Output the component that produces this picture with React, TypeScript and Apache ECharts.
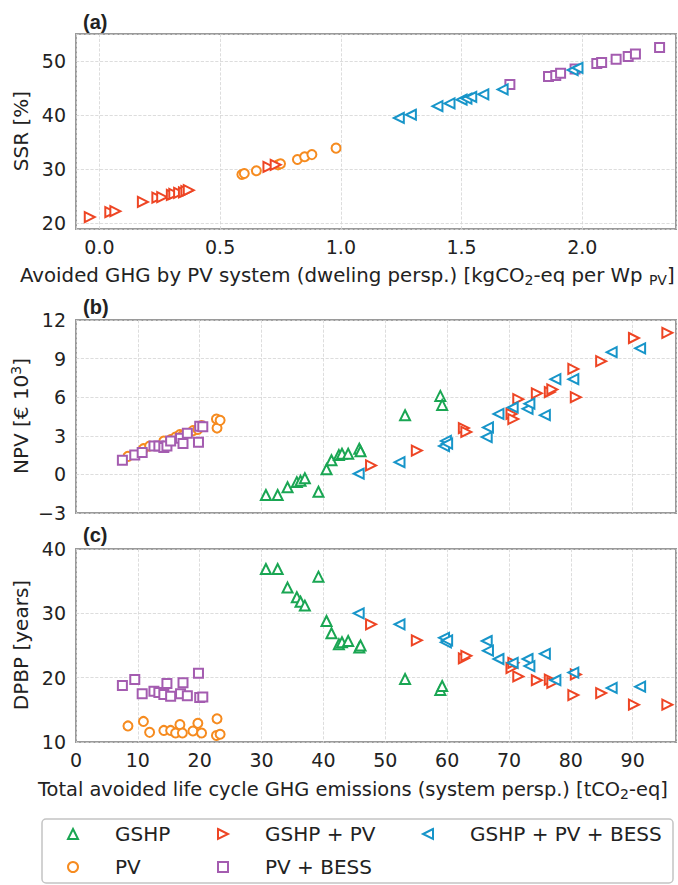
import React, { useEffect, useRef } from "react";
import * as echarts from "echarts";

const FONT = '"DejaVu Sans", "Liberation Sans", Arial, sans-serif';
const TEXT = "#222222";

// ---- (a) avoided GHG by PV system vs. SSR ----
const gshpPvAvoided = [-0.04, 0.045, 0.066, 0.18, 0.24, 0.26, 0.3, 0.31, 0.33, 0.35, 0.36, 0.37, 0.7, 0.73];
const gshpPvSsr = [21.1, 22.0, 22.2, 23.9, 24.7, 24.8, 25.2, 25.4, 25.6, 25.7, 25.9, 26.1, 30.4, 30.8];

const pvAvoided = [0.59, 0.6, 0.65, 0.74, 0.75, 0.82, 0.85, 0.88, 0.98];
const pvSsr = [29.0, 29.2, 29.7, 30.8, 31.0, 31.8, 32.3, 32.7, 33.9];

const gshpPvBessAvoided = [1.24, 1.29, 1.4, 1.45, 1.5, 1.52, 1.54, 1.59, 1.67, 1.96, 1.98];
const gshpPvBessSsr = [39.5, 40.1, 41.7, 42.2, 42.9, 43.1, 43.4, 43.9, 44.8, 48.4, 48.8];

const pvBessAvoided = [1.7, 1.86, 1.89, 1.91, 1.97, 2.06, 2.08, 2.14, 2.19, 2.22, 2.32];
const pvBessSsr = [45.7, 47.2, 47.4, 47.8, 48.6, 49.6, 49.8, 50.4, 50.9, 51.4, 52.6];

// ---- (b) NPV and (c) DPBP vs. total avoided life cycle GHG ----
const gshpTotal = [30.7, 32.6, 34.2, 35.7, 36.3, 37.0, 39.2, 40.5, 41.3, 42.5, 43.0, 44.0, 45.8, 46.0, 53.2, 58.9, 59.2];
const gshpNpv = [-1.6, -1.6, -1.0, -0.6, -0.5, -0.3, -1.35, 0.4, 1.1, 1.5, 1.6, 1.6, 2.0, 1.8, 4.6, 6.1, 5.4];
const gshpDpbp = [36.9, 36.9, 34.0, 32.5, 31.8, 31.2, 35.7, 28.8, 26.9, 25.2, 25.5, 25.7, 24.7, 25.0, 19.8, 18.1, 18.7];

const gshpPvTotal = [47.7, 55.1, 62.7, 63.1, 70.4, 70.7, 71.5, 74.5, 76.6, 77.0, 80.4, 80.8, 84.9, 90.2, 95.6];
const gshpPvNpv = [0.7, 1.85, 3.6, 3.3, 4.7, 4.3, 5.85, 6.3, 6.4, 6.6, 8.2, 6.0, 8.8, 10.6, 11.0];
const gshpPvDpbp = [28.3, 25.8, 23.0, 23.4, 21.5, 22.3, 20.2, 19.6, 19.7, 19.2, 17.3, 20.5, 17.6, 15.8, 15.8];

const gshpPvBessTotal = [45.7, 52.3, 59.5, 59.8, 60.0, 66.4, 66.6, 68.3, 70.6, 73.0, 73.3, 75.8, 77.5, 80.4, 86.6, 91.2];
const gshpPvBessNpv = [0.05, 0.95, 2.2, 2.6, 2.4, 2.9, 3.65, 4.7, 5.2, 5.1, 5.5, 4.6, 7.4, 7.4, 9.5, 9.8];
const gshpPvBessDpbp = [30.0, 28.3, 26.2, 25.5, 25.8, 25.7, 24.2, 22.9, 22.3, 22.9, 21.8, 23.7, 19.6, 20.8, 18.4, 18.6];

const pvTotal = [8.4, 10.9, 11.9, 14.2, 15.3, 16.1, 16.8, 17.2, 18.9, 19.7, 20.3, 22.8, 22.7, 23.3];
const pvNpv = [1.4, 2.0, 2.2, 2.6, 2.7, 2.9, 3.1, 3.0, 3.4, 3.5, 3.8, 3.6, 4.3, 4.2];
const pvDpbp = [12.5, 13.2, 11.5, 11.8, 11.8, 11.4, 12.7, 11.4, 11.7, 12.9, 11.4, 13.6, 11.0, 11.2];

const pvBessTotal = [7.5, 9.5, 10.7, 12.6, 13.4, 14.2, 14.7, 15.3, 16.9, 17.3, 18.0, 19.8, 20.0, 20.5];
const pvBessNpv = [1.1, 1.5, 1.7, 2.2, 2.2, 2.1, 2.2, 2.6, 2.8, 2.4, 3.2, 2.5, 3.75, 3.7];
const pvBessDpbp = [18.8, 19.7, 17.5, 17.9, 17.7, 17.4, 19.1, 17.1, 17.5, 19.2, 17.2, 20.7, 16.9, 17.0];

const GSHP = "GSHP";
const GSHP_PV = "GSHP + PV";
const GSHP_PV_BESS = "GSHP + PV + BESS";
const PV = "PV";
const PV_BESS = "PV + BESS";

// marker shapes: up, right- and left-pointing triangles, circle, square
const TRI_UP = "path://M5,0L10,10L0,10Z";
const TRI_RIGHT = "path://M0,0L10,5L0,10Z";
const TRI_LEFT = "path://M10,0L0,5L10,10Z";

const markerStyle: Record<string, { color: string; symbol: string; size: number }> = {
  [GSHP]: { color: "#1aa653", symbol: TRI_UP, size: 10 },
  [PV]: { color: "#f68b1f", symbol: "circle", size: 9 },
  [GSHP_PV]: { color: "#ee4524", symbol: TRI_RIGHT, size: 10 },
  [PV_BESS]: { color: "#a45cb0", symbol: "rect", size: 9 },
  [GSHP_PV_BESS]: { color: "#1795c9", symbol: TRI_LEFT, size: 10 },
};

const zip = (xs: number[], ys: number[]) => xs.map((x, i) => [x, ys[i]]);

function scatter(name: string, idx: number, xs: number[], ys: number[]) {
  const m = markerStyle[name];
  return {
    type: "scatter",
    name,
    xAxisIndex: idx,
    yAxisIndex: idx,
    data: zip(xs, ys),
    symbol: m.symbol,
    symbolSize: m.size,
    itemStyle: { color: "#ffffff", borderColor: m.color, borderWidth: 2, opacity: 1 },
    emphasis: { disabled: true },
  };
}

const gridLine = { show: true, lineStyle: { color: "#d4d4d4", type: "dashed", width: 0.8 } };
const tickFont = { fontSize: 19, color: TEXT, fontFamily: FONT };
const minus = (v: number) => String(v).replace("-", "\u2212");

// one legend column: small marker, then a fixed gap before the label
function legendCol(names: string[], iconCenter: number) {
  return {
    data: names.map((name) => ({
      name,
      icon: markerStyle[name].symbol,
      itemStyle: { color: "#ffffff", borderColor: markerStyle[name].color, borderWidth: 2 },
    })),
    orient: "vertical",
    left: iconCenter - 5,
    top: 824,
    height: 70,
    padding: 0,
    itemWidth: 10,
    itemHeight: 10,
    itemGap: 13,
    selectedMode: false,
    formatter: (name: string) => `{gap| }${name}`,
    textStyle: {
      fontSize: 20,
      color: TEXT,
      fontFamily: FONT,
      rich: { gap: { width: 32, fontSize: 20 } },
    },
  };
}

const subRich = {
  sub: { fontSize: 14, lineHeight: 14, verticalAlign: "bottom", fontFamily: FONT, fill: TEXT },
  sup: { fontSize: 14, lineHeight: 14, verticalAlign: "top", fontFamily: FONT, fill: TEXT },
};

function label(text: string, x: number, y: number, opts: any = {}) {
  return {
    type: "text",
    x,
    y,
    rotation: opts.rotation || 0,
    style: {
      text,
      fill: TEXT,
      fontSize: opts.fontSize || 20,
      fontWeight: opts.bold ? "bold" : "normal",
      fontFamily: opts.family || FONT,
      lineHeight: 24,
      align: opts.align || "left",
      verticalAlign: "middle",
      rich: subRich,
    },
  };
}

export default function App() {
  const ref = useRef<HTMLDivElement>(null);

  useEffect(() => {
    if (!ref.current) return;
    const chart = echarts.init(ref.current, undefined, { renderer: "svg" });

    const grids = [
      { left: 76, top: 34, width: 600, height: 195 },
      { left: 76, top: 320, width: 600, height: 193 },
      { left: 76, top: 549, width: 600, height: 193 },
    ].map((g) => ({ ...g, show: true, borderColor: "#9a9a9a", borderWidth: 2, backgroundColor: "transparent" }));

    const baseAxis = {
      type: "value",
      axisLine: { show: false },
      axisTick: { show: false },
      splitLine: gridLine,
    };

    const panelFont = '"Liberation Sans", Arial, sans-serif';

    chart.setOption({
      animation: false,
      backgroundColor: "#ffffff",
      grid: grids,
      xAxis: [
        {
          ...baseAxis,
          gridIndex: 0,
          min: -0.097,
          max: 2.388,
          splitNumber: 5,
          axisLabel: {
            ...tickFont,
            margin: 8,
            showMinLabel: false,
            showMaxLabel: false,
            formatter: (v: number) => v.toFixed(1),
          },
        },
        { ...baseAxis, gridIndex: 1, min: 0, max: 97, interval: 10, axisLabel: { show: false } },
        {
          ...baseAxis,
          gridIndex: 2,
          min: 0,
          max: 97,
          interval: 10,
          axisLabel: { ...tickFont, margin: 8, showMaxLabel: false },
        },
      ],
      yAxis: [
        {
          ...baseAxis,
          gridIndex: 0,
          min: 18.88,
          max: 55.1,
          splitNumber: 4,
          axisLabel: { ...tickFont, margin: 10, showMinLabel: false, showMaxLabel: false },
        },
        {
          ...baseAxis,
          gridIndex: 1,
          min: -3,
          max: 12,
          interval: 3,
          axisLabel: { ...tickFont, margin: 10, formatter: minus },
        },
        {
          ...baseAxis,
          gridIndex: 2,
          min: 10,
          max: 40,
          interval: 10,
          axisLabel: { ...tickFont, margin: 10 },
        },
      ],
      legend: [
        legendCol([GSHP, PV], 72),
        legendCol([GSHP_PV, PV_BESS], 222),
        legendCol([GSHP_PV_BESS], 427),
      ],
      graphic: [
        {
          type: "rect",
          shape: { x: 42, y: 819, width: 631, height: 64, r: 4 },
          style: { fill: "none", stroke: "#c4c4c4", lineWidth: 1.5 },
          silent: true,
        },
        label("(a)", 83, 22, { bold: true, family: panelFont }),
        label("(b)", 83, 307, { bold: true, family: panelFont }),
        label("(c)", 83, 535, { bold: true, family: panelFont }),
        label("Avoided GHG by PV system (dweling persp.) [kgCO{sub|2}-eq per Wp {sub|PV}]", 20, 275, { fontSize: 19.75 }),
        label("Total avoided life cycle GHG emissions (system persp.) [tCO{sub|2}-eq]", 38, 789, { fontSize: 19.4 }),
        label("SSR [%]", 21, 131, { rotation: Math.PI / 2, align: "center" }),
        label("NPV [\u20ac 10{sup|3}]", 21, 416, { rotation: Math.PI / 2, align: "center" }),
        label("DPBP [years]", 21, 645, { rotation: Math.PI / 2, align: "center" }),
      ],
      series: [
        scatter(PV, 0, pvAvoided, pvSsr),
        scatter(GSHP_PV, 0, gshpPvAvoided, gshpPvSsr),
        scatter(PV_BESS, 0, pvBessAvoided, pvBessSsr),
        scatter(GSHP_PV_BESS, 0, gshpPvBessAvoided, gshpPvBessSsr),

        scatter(GSHP, 1, gshpTotal, gshpNpv),
        scatter(PV, 1, pvTotal, pvNpv),
        scatter(GSHP_PV, 1, gshpPvTotal, gshpPvNpv),
        scatter(PV_BESS, 1, pvBessTotal, pvBessNpv),
        scatter(GSHP_PV_BESS, 1, gshpPvBessTotal, gshpPvBessNpv),

        scatter(GSHP, 2, gshpTotal, gshpDpbp),
        scatter(PV, 2, pvTotal, pvDpbp),
        scatter(GSHP_PV, 2, gshpPvTotal, gshpPvDpbp),
        scatter(PV_BESS, 2, pvBessTotal, pvBessDpbp),
        scatter(GSHP_PV_BESS, 2, gshpPvBessTotal, gshpPvBessDpbp),
      ],
    });

    return () => chart.dispose();
  }, []);

  return (
    <div
      ref={ref}
      style={{ position: "fixed", left: 0, top: 0, width: 678, height: 885, background: "#ffffff" }}
    />
  );
}
